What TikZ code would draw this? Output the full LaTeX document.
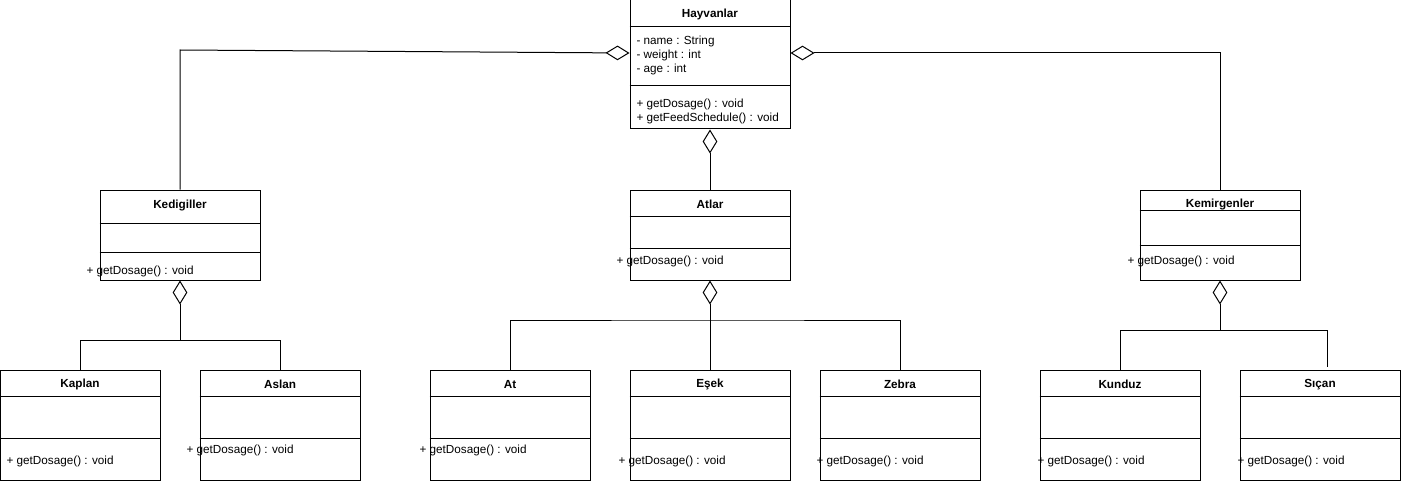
\documentclass[tikz,border=0pt]{standalone}
\usepackage{fontspec}
\setmainfont{Liberation Sans}
\usetikzlibrary{arrows.meta,positioning}

\begin{document}
\begin{tikzpicture}[x=0.75pt, y=-0.75pt, line width=0.75pt,
        cls/.style={rectangle, draw, minimum width=120pt, inner sep=0pt},
        small/.style={cls, minimum height=67.5pt},
        big/.style={cls, minimum height=82.5pt},
        title/.style={font=\fontsize{8.8}{10}\selectfont\bfseries, inner sep=0pt, yshift=-1pt},
        member/.style={anchor=west, align=left, inner sep=0pt, yshift=-1pt, font=\fontsize{8.8}{10.5}\selectfont},
        agg/.style={{Diamond[open, length=18pt, width=11pt]}-},
    ]
        \useasboundingbox (0,0) rectangle (1401,481);

        % Base class
        \node[cls, minimum height=96.75pt] (hayvanlar) at (710,64.5) {};
        \node[title] (hayvanlar-t) at (710,13) {Hayvanlar};
        \draw (hayvanlar.west |- 0,27) -- (hayvanlar.east |- 0,27);
        \draw (hayvanlar.west |- 0,86) -- (hayvanlar.east |- 0,86);
        \node[member] (hayvanlar-a) at (636,54) {- name : String\\- weight : int\\- age : int};
        \node[member] (hayvanlar-m) at (636,110) {+ getDosage() : void\\+ getFeedSchedule() : void};

        % Middle row
        \node[small] (kedigiller) at (180,235) {};
        \node[title] (kedigiller-t) at (180,204) {Kedigiller};
        \draw (kedigiller.west |- 0,223) -- (kedigiller.east |- 0,223);
        \draw (kedigiller.west |- 0,252) -- (kedigiller.east |- 0,252);
        \node[member] (kedigiller-m) at (86,270) {+ getDosage() : void};

        \node[small] (atlar) at (710,235) {};
        \node[title] (atlar-t) at (710,203) {Atlar};
        \draw (atlar.west |- 0,216) -- (atlar.east |- 0,216);
        \draw (atlar.west |- 0,248) -- (atlar.east |- 0,248);
        \node[member] (atlar-m) at (616,260) {+ getDosage() : void};

        \node[small] (kemirgenler) at (1220,235) {};
        \node[title] (kemirgenler-t) at (1220,203) {Kemirgenler};
        \draw (kemirgenler.west |- 0,210) -- (kemirgenler.east |- 0,210);
        \draw (kemirgenler.west |- 0,245) -- (kemirgenler.east |- 0,245);
        \node[member] (kemirgenler-m) at (1127,260) {+ getDosage() : void};

        % Bottom row
        \node[big] (kaplan) at (80,425) {};
        \node[title] (kaplan-t) at (80,383) {Kaplan};
        \node[member] (kaplan-m) at (6,460) {+ getDosage() : void};
        \node[big] (aslan) at (280,425) {};
        \node[title] (aslan-t) at (280,383) {Aslan};
        \node[member] (aslan-m) at (186,449) {+ getDosage() : void};
        \node[big] (at) at (510,425) {};
        \node[title] (at-t) at (510,383) {At};
        \node[member] (at-m) at (419,449) {+ getDosage() : void};
        \node[big] (esek) at (710,425) {};
        \node[title] (esek-t) at (710,383) {Eşek};
        \node[member] (esek-m) at (618,460) {+ getDosage() : void};
        \node[big] (zebra) at (900,425) {};
        \node[title] (zebra-t) at (900,383) {Zebra};
        \node[member] (zebra-m) at (816,460) {+ getDosage() : void};
        \node[big] (kunduz) at (1120,425) {};
        \node[title] (kunduz-t) at (1120,383) {Kunduz};
        \node[member] (kunduz-m) at (1037,460) {+ getDosage() : void};
        \node[big] (sican) at (1320,425) {};
        \node[title] (sican-t) at (1320,383) {Sıçan};
        \node[member] (sican-m) at (1237,460) {+ getDosage() : void};
        \foreach \c in {kaplan,aslan,at,esek,zebra,kunduz,sican} {
            \draw (\c.west |- 0,396) -- (\c.east |- 0,396);
            \draw (\c.west |- 0,438) -- (\c.east |- 0,438);
        }

        % Aggregations
        \coordinate (kedi-k) at (180,50);
        \coordinate (kedi-j) at (180,340);
        \coordinate (atlar-j) at (710,320);
        \coordinate (kem-j) at (1220,330);
        \coordinate (sican-k) at (1327,367);
        \draw[agg] (hayvanlar.west |- 0,53) -- (kedi-k) -- (kedigiller.north);
        \draw[agg] (hayvanlar.east |- 0,53) -| (kemirgenler.north);
        \draw[agg] (hayvanlar.south) -- (atlar.north);
        \draw[agg] (kedigiller.south) -- (kedi-j) -| (kaplan.north);
        \draw (kedi-j) -| (aslan.north);
        \draw[agg] (atlar.south) -- (esek.north);
        \draw (at.north) |- (atlar-j) -| (zebra.north);
        \draw[agg] (kemirgenler.south) -- (kem-j) -| (kunduz.north);
        \draw (kem-j) -| (sican-k);
    \end{tikzpicture}
\end{document}
